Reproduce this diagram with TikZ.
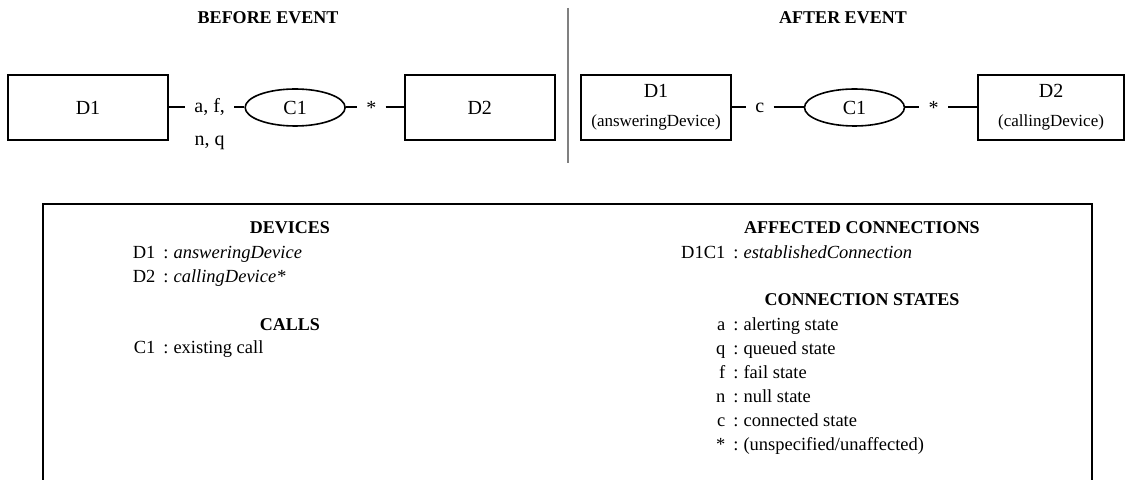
\documentclass[tikz,border=0pt]{standalone}
\usepackage{fontspec}
\setmainfont{Liberation Serif}
\usetikzlibrary{positioning, shapes.geometric}

\newcommand{\lkey}[1]{\makebox[26pt][r]{#1}\hspace{4pt}}

\begin{document}
\begin{tikzpicture}[
						x=0.5pt, y=-0.5pt,
						node distance=7pt,
						devblock/.style={rectangle, draw, line width=1pt, minimum width=75pt, minimum height=32.5pt, align=center, font=\fontsize{10}{12}\selectfont},
						callblock/.style={ellipse, draw, line width=0.8pt, minimum width=50pt, minimum height=18.5pt, inner sep=0pt, font=\fontsize{10}{12}\selectfont},
						statelabel/.style={inner xsep=4.5pt, inner ysep=1pt, font=\fontsize{10}{12}\selectfont},
						line/.style={draw, line width=1pt},
						sidehead/.style={font=\bfseries\fontsize{9}{11}\selectfont},
						listhead/.style={anchor=base, font=\bfseries\fontsize{9}{11}\selectfont},
						listbody/.style={anchor=base west, inner sep=0pt, font=\fontsize{9.25}{12}\selectfont},
						panel/.style={draw, line width=1pt},
						divider/.style={draw, line width=1pt, color=gray}
						]
						
						\useasboundingbox (0,0) rectangle (1125,480);
						
						\node [sidehead] (before) at (268,18) {BEFORE EVENT};
						\node [sidehead] (after) at (843,18) {AFTER EVENT};
						\draw [divider] (568,8) -- (568,163);
						
						\node [devblock, minimum width=80pt] (bD1) at (88,107.5) {D1};
						\node [statelabel, right=8pt of bD1] (bAF) {a, f,};
						\node [statelabel, anchor=base, yshift=-16.5pt] (bNQ) at (bAF.base) {n, q};
						\node [callblock, right=5pt of bAF] (bC1) {C1};
						\node [statelabel, right=5.5pt of bC1] (bStar) {*};
						\node [devblock, right=9pt of bStar] (bD2) {D2};
						
						\draw [line] (bD1) -- (bAF);
						\draw [line] (bAF) -- (bC1);
						\draw [line] (bC1) -- (bStar);
						\draw [line] (bStar) -- (bD2);
						
						\node [devblock] (aD1) at (656,107.5) {D1\\[2.5pt]{\fontsize{8.5}{10}\selectfont(answeringDevice)}};
						\node [statelabel, right=7pt of aD1] (aC) {c};
						\node [callblock, right=15pt of aC] (aC1) {C1};
						\node [statelabel, right=7pt of aC1] (aStar) {*};
						\node [devblock, minimum width=73pt, right=14.5pt of aStar] (aD2) {D2\\[2.5pt]{\fontsize{8.5}{10}\selectfont(callingDevice)}};
						
						\draw [line] (aD1) -- (aC);
						\draw [line] (aC) -- (aC1);
						\draw [line] (aC1) -- (aStar);
						\draw [line] (aStar) -- (aD2);
						
						\draw [panel] (43,481) |- (1092,204) -- (1092,481);
						
						\node [listhead] (devhead) at (290,234) {DEVICES};
						\node [listbody] (devlist) at (103,259) {\begin{tabular}[t]{@{}l@{:\hspace{2.5pt}}l@{}}
								\lkey{D1} & \textit{answeringDevice}\\
								\lkey{D2} & \textit{callingDevice*}
							\end{tabular}};
						\node [listhead] (callhead) at (290,331) {CALLS};
						\node [listbody] (calllist) at (103,354) {\begin{tabular}[t]{@{}l@{:\hspace{2.5pt}}l@{}}
								\lkey{C1} & existing call
							\end{tabular}};
						
						\node [listhead] (connhead) at (862,234) {AFFECTED CONNECTIONS};
						\node [listbody] (connlist) at (673,259) {\begin{tabular}[t]{@{}l@{:\hspace{2.5pt}}l@{}}
								\lkey{D1C1} & \textit{establishedConnection}
							\end{tabular}};
						\node [listhead] (statehead) at (862,306) {CONNECTION STATES};
						\node [listbody] (statelist) at (673,331) {\begin{tabular}[t]{@{}l@{:\hspace{2.5pt}}l@{}}
								\lkey{a} & alerting state\\
								\lkey{q} & queued state\\
								\lkey{f} & fail state\\
								\lkey{n} & null state\\
								\lkey{c} & connected state\\
								\lkey{*} & (unspecified/unaffected)
							\end{tabular}};
					\end{tikzpicture}
\end{document}
